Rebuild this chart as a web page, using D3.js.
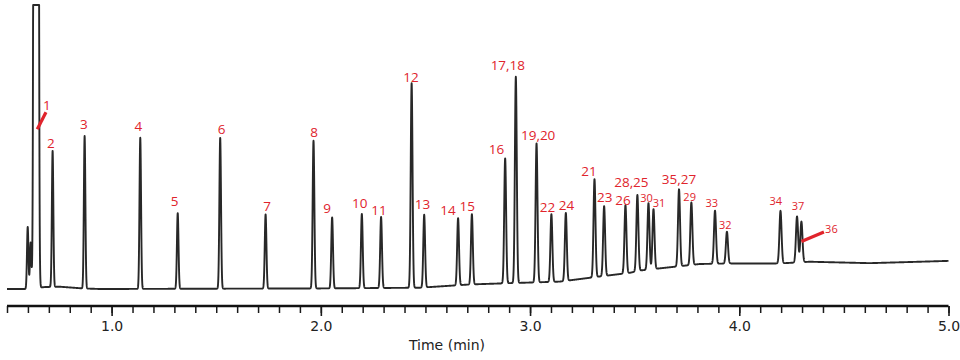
<!DOCTYPE html>
<html>
<head>
<meta charset="utf-8">
<script src="https://cdn.jsdelivr.net/npm/d3@7"></script>
<style>
  html, body { margin: 0; padding: 0; background: #fff; }
  svg { display: block; }
</style>
</head>
<body>
<svg id="chart" width="960" height="360"></svg>
<script>
// ---------------- DATA ----------------
// Peak retention times (min)
const peakTimes = [0.599, 0.613, 0.639, 0.648, 0.718, 0.871, 1.137, 1.316, 1.519, 1.736,
  1.965, 2.054, 2.196, 2.288, 2.434, 2.494, 2.656, 2.722, 2.881, 2.932,
  3.031, 3.102, 3.171, 3.308, 3.354, 3.456, 3.513, 3.566, 3.590, 3.712,
  3.771, 3.884, 3.941, 4.197, 4.276, 4.297];
// Peak heights above baseline (relative response)
const peakHeights = [21.8, 16.2, 3000, 56, 47.9, 53.7, 53.2, 26.6, 53.1, 26.1,
  52.0, 25.0, 26.1, 25.0, 72.0, 25.6, 23.6, 24.7, 44.0, 72.6,
  48.9, 23.8, 23.9, 34.5, 24.6, 24.0, 26.8, 23.4, 21.1, 27.1,
  22.0, 18.7, 11.2, 18.5, 16.2, 14.3];
// Peak labels ("" = unlabeled)
const peakLabels = ["", "", "", "1", "2", "3", "4", "5", "6", "7",
  "8", "9", "10", "11", "12", "13", "14", "15", "16", "17,18",
  "19,20", "22", "24", "21", "23", "26", "28,25", "30", "31", "35,27",
  "29", "33", "32", "34", "37", "36"];
// Baseline (drift) knots
const baseTimes  = [0.50, 0.596, 0.682, 0.753, 0.863, 0.944, 1.995, 2.473, 2.712, 2.879,
  3.142, 3.333, 3.477, 3.524, 3.811, 3.954, 4.193, 4.337, 4.623, 4.862, 5.00];
const baseValues = [0, 0, 0.7, 0.8, 0.2, 0, 0.2, 0.45, 1.6, 2.0,
  2.6, 4.4, 5.7, 6.5, 8.8, 9.0, 9.0, 9.6, 9.1, 9.6, 9.9];
// Axis
const xDomain = [0.5, 5.0];
const majorTicks = [1.0, 2.0, 3.0, 4.0, 5.0];
const tickLabels = ["1.0", "2.0", "3.0", "4.0", "5.0"];
const xTitle = "Time (min)";

// ---------------- LAYOUT / STYLE ----------------
const svg = d3.select("#chart");
const x = d3.scaleLinear().domain(xDomain).range([7, 948.5]);
const y = d3.scaleLinear().domain([0, 100]).range([289, 5]);
const baseline = d3.scaleLinear().domain(baseTimes).range(baseValues).clamp(true);

const peaks = peakTimes.map((t, i) => ({ t, h: peakHeights[i], label: peakLabels[i] }));

function sigmaAt(t, h) { return h > 1000 ? 0.0055 : 0.0032 + 0.00045 * t; }
function signal(t) {
  let s = baseline(t);
  for (const p of peaks) {
    const sg = sigmaAt(p.t, p.h);
    const d = t - p.t;
    if (Math.abs(d) < sg * 8) s += p.h * Math.exp(-(d * d) / (2 * sg * sg));
  }
  return Math.min(s, 100);
}
const samples = d3.range(xDomain[0], xDomain[1] + 1e-9, 0.0005).map(t => [t, signal(t)]);

svg.append("path")
  .datum(samples)
  .attr("fill", "none")
  .attr("stroke", "#282828")
  .attr("stroke-width", 1.9)
  .attr("stroke-linejoin", "round")
  .attr("d", d3.line().x(d => x(d[0])).y(d => y(d[1])));

// Axis
const axisY = 306;
const axisG = svg.append("g").attr("transform", `translate(0,${axisY})`);
const minorAxis = d3.axisBottom(x)
  .tickValues(d3.range(5, 51).map(v => v / 10))
  .tickSize(7).tickFormat("");
axisG.call(minorAxis);
axisG.select(".domain").remove();
axisG.selectAll(".tick line").attr("stroke", "#1a1a1a").attr("stroke-width", 1.5);

const majorG = svg.append("g").attr("transform", `translate(0,${axisY})`);
majorG.call(d3.axisBottom(x).tickValues(majorTicks).tickSize(10)
  .tickFormat((d, i) => tickLabels[i]));
majorG.select(".domain").remove();
majorG.selectAll(".tick line").attr("stroke", "#1a1a1a").attr("stroke-width", 1.6);
majorG.selectAll(".tick text")
  .attr("font-family", "DejaVu Sans, sans-serif")
  .attr("font-size", 14).attr("fill", "#222")
  .attr("y", 15).attr("dy", "0.71em");

svg.append("line")
  .attr("x1", x(xDomain[0])).attr("x2", x(xDomain[1]))
  .attr("y1", axisY).attr("y2", axisY)
  .attr("stroke", "#111").attr("stroke-width", 2.6);

svg.append("text")
  .attr("x", 447).attr("y", 350)
  .attr("text-anchor", "middle")
  .attr("font-family", "DejaVu Sans, sans-serif")
  .attr("font-size", 14).attr("fill", "#222")
  .text(xTitle);

// Peak labels
const red = "#e0242c";
const smallLabels = new Set(["30", "31", "29", "33", "32", "34", "37", "36"]);
// label centre offsets from the peak apex, px
const nudge = {
  "1": [9, -24], "2": [-1.7, -7.4], "3": [-0.7, -12], "4": [-2, -12], "5": [-3, -11.8],
  "6": [1.4, -8.3], "7": [1.6, -8.3], "8": [0.6, -9], "9": [-5, -9], "10": [-2, -11],
  "11": [-2, -6.6], "12": [-0.7, -6.6], "13": [-1.6, -10.7], "14": [-10, -7.6], "15": [-4.7, -7.6],
  "16": [-8.6, -9], "17,18": [-8, -11.7], "19,20": [1.6, -8.3], "22": [-4, -7.6], "24": [0.7, -8.3],
  "21": [-5.4, -8.3], "23": [0.7, -9.3], "26": [-2.4, -4.8], "28,25": [-6, -12.5], "30": [-2, -5.5],
  "31": [5.6, -6], "35,27": [0, -10], "29": [-1.7, -5.6], "33": [-3.3, -8], "32": [-1.6, -6.7],
  "34": [-4.7, -10.3], "37": [1, -10], "36": [30, 7.3]
};
// pointer lines (from apex offset to label-side offset), px
const pointers = {
  "1": [[-0.7, 0.5], [8, -16.5]],
  "36": [[0, 20], [22.5, 10.5]]
};

const labelled = peaks.filter(p => p.label);
const lg = svg.append("g");
labelled.forEach(p => {
  const ax = x(p.t), ay = y(p.h + baseline(p.t));
  const [dx, dy] = nudge[p.label] || [0, -9];
  const fs = smallLabels.has(p.label) ? 11 : 13.5;
  lg.append("text")
    .attr("x", ax + dx).attr("y", ay + dy)
    .attr("dy", "0.36em")
    .attr("text-anchor", "middle")
    .attr("font-family", "Open Sans, sans-serif")
    .attr("font-size", fs)
    .attr("fill", red)
    .text(p.label);
  if (pointers[p.label]) {
    const [a, b] = pointers[p.label];
    lg.append("line")
      .attr("x1", ax + a[0]).attr("y1", ay + a[1])
      .attr("x2", ax + b[0]).attr("y2", ay + b[1])
      .attr("stroke", red).attr("stroke-width", 3.2)
      .attr("stroke-linecap", "butt");
  }
});
</script>
</body>
</html>
